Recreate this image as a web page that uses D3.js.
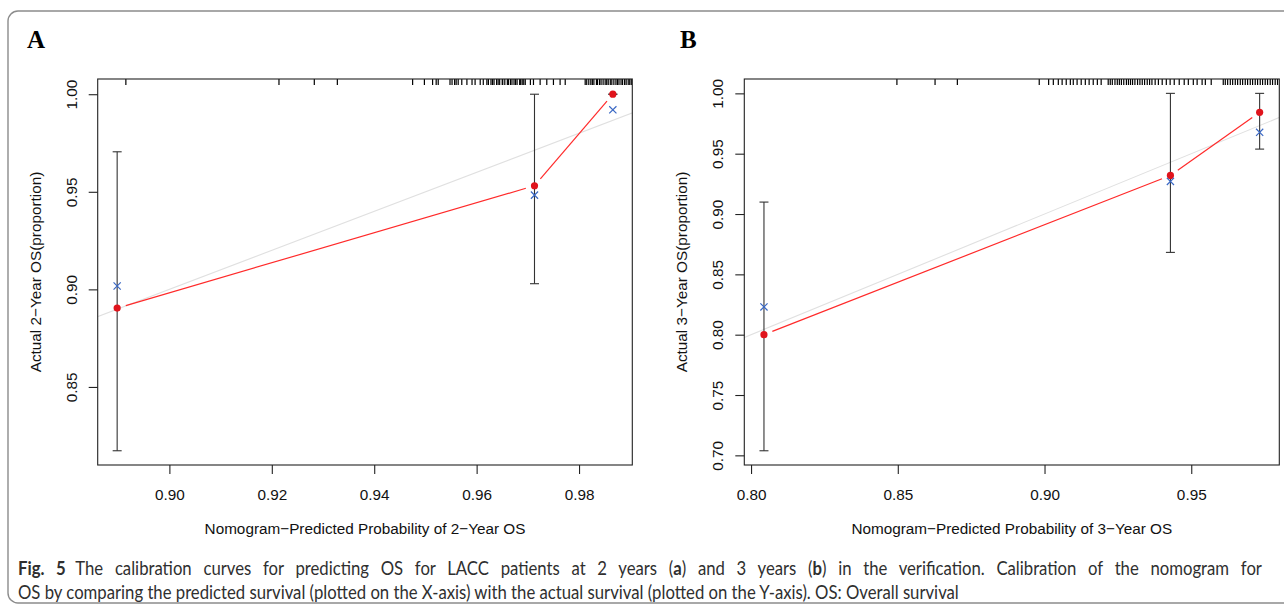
<!DOCTYPE html>
<html>
<head>
<meta charset="utf-8">
<script src="https://cdn.jsdelivr.net/npm/d3@7"></script>
<style>
  body { margin: 0; background: #fff; }
</style>
</head>
<body>
<div id="chart"></div>
<script>
// ---- panel A : 2-year OS ----
const predA = [0.8898, 0.9713, 0.9866];
const obsA  = [0.8904, 0.9531, 1.0000];
const corA  = [0.9017, 0.9483, 0.9920];
const loA   = [0.8173, 0.9029, 1.0000];
const hiA   = [0.9705, 1.0000, 1.0000];
const xTicksA = [0.90, 0.92, 0.94, 0.96, 0.98];
const yTicksA = [0.85, 0.90, 0.95, 1.00];
const rugA = [0.8915, 0.9214, 0.9283, 0.9328, 0.9475, 0.9498, 0.9514, 0.9521, 0.9525,
  0.9548, 0.9552, 0.9557, 0.9560, 0.9564, 0.9571, 0.9581, 0.9591, 0.9597, 0.9607, 0.9613,
  0.9620, 0.9623, 0.9628, 0.9631, 0.9634, 0.9639, 0.9642, 0.9645, 0.9650, 0.9651, 0.9655,
  0.9660, 0.9662, 0.9666, 0.9669, 0.9673, 0.9676, 0.9679, 0.9684, 0.9686, 0.9689, 0.9692,
  0.9695, 0.9705, 0.9711, 0.9724, 0.9737, 0.9750, 0.9763, 0.9773,
  0.9812, 0.9815, 0.9819, 0.9823, 0.9826, 0.9829, 0.9834, 0.9836, 0.9840, 0.9843, 0.9847,
  0.9851, 0.9854, 0.9857, 0.9861, 0.9864, 0.9868, 0.9872, 0.9875, 0.9878, 0.9882, 0.9885,
  0.9889, 0.9892, 0.9896, 0.9899, 0.9902];

// ---- panel B : 3-year OS ----
const predB = [0.8044, 0.9429, 0.9733];
const obsB  = [0.8000, 0.9320, 0.9843];
const corB  = [0.8230, 0.9270, 0.9677];
const loB   = [0.7038, 0.8682, 0.9538];
const hiB   = [0.9099, 1.0000, 1.0000];
const xTicksB = [0.80, 0.85, 0.90, 0.95];
const yTicksB = [0.70, 0.75, 0.80, 0.85, 0.90, 0.95, 1.00];
const rugB = [0.8497, 0.8627, 0.8703, 0.8982, 0.9014, 0.9030, 0.9047,
  0.9060, 0.9074, 0.9088, 0.9098, 0.9111, 0.9125, 0.9139, 0.9152, 0.9166, 0.9180, 0.9193,
  0.9217, 0.9224, 0.9231, 0.9240, 0.9248, 0.9255, 0.9262, 0.9270, 0.9279, 0.9286, 0.9293,
  0.9300, 0.9308, 0.9317, 0.9325, 0.9333, 0.9341, 0.9350, 0.9358, 0.9366, 0.9377,
  0.9388, 0.9401, 0.9415, 0.9428, 0.9442, 0.9459, 0.9476, 0.9490, 0.9507, 0.9520, 0.9537,
  0.9548, 0.9568,
  0.9609, 0.9616, 0.9624, 0.9633, 0.9641, 0.9650, 0.9658, 0.9667, 0.9675, 0.9684, 0.9692,
  0.9701, 0.9709, 0.9718, 0.9726, 0.9735, 0.9743, 0.9752, 0.9760, 0.9769, 0.9777, 0.9786, 0.9794];

const width = 1284
const height = 605
const plotFont = "'Liberation Sans', Arial, Helvetica, sans-serif"
const fs = 15.3
const redline = "#ff2a2a"
const reddot = "#e0141c"
const bluex = "#3a68c4"
const fmt = d3.format(".2f")
const boxTop = 79, boxBottom = 465

const svg = d3.select("#chart").append("svg")
  .attr("width", width).attr("height", height)
  .style("font-family", plotFont);

// outer rounded frame (runs off right edge)
svg.append("rect")
  .attr("x", 8).attr("y", 11)
  .attr("width", 1300).attr("height", 592)
  .attr("rx", 10).attr("ry", 10)
  .attr("fill", "none").attr("stroke", "#8c8c8c").attr("stroke-width", 1.4);

const panels = [
  { id: "A", letterX: 27, left: 97.7, right: 632.3, xDomain: [0.886, 0.9904], yDomain: [0.810, 1.0078],
    pred: predA, obs: obsA, cor: corA, lo: loA, hi: hiA, rug: rugA, xTicks: xTicksA, yTicks: yTicksA,
    ytitle: "Actual 2\u2212Year OS(proportion)", xtitle: "Nomogram\u2212Predicted Probability of 2\u2212Year OS" },
  { id: "B", letterX: 680, left: 744.3, right: 1279.3, xDomain: [0.7977, 0.9800], yDomain: [0.692, 1.0119],
    pred: predB, obs: obsB, cor: corB, lo: loB, hi: hiB, rug: rugB, xTicks: xTicksB, yTicks: yTicksB,
    ytitle: "Actual 3\u2212Year OS(proportion)", xtitle: "Nomogram\u2212Predicted Probability of 3\u2212Year OS" }
];

panels.forEach(p => {
  const x = d3.scaleLinear().domain(p.xDomain).range([p.left, p.right]);
  const y = d3.scaleLinear().domain(p.yDomain).range([boxBottom, boxTop]);
  const g = svg.append("g");

  g.append("clipPath").attr("id", "clip" + p.id)
    .append("rect").attr("x", p.left).attr("y", boxTop)
    .attr("width", p.right - p.left).attr("height", boxBottom - boxTop);

  // ideal line y = x
  const lo = Math.min(p.xDomain[0], p.yDomain[0]) - 0.05, hi = Math.max(p.xDomain[1], p.yDomain[1]) + 0.05;
  g.append("line")
    .attr("clip-path", `url(#clip${p.id})`)
    .attr("x1", x(lo)).attr("y1", y(lo)).attr("x2", x(hi)).attr("y2", y(hi))
    .attr("stroke", "#e0e0e0").attr("stroke-width", 1.1);

  // red calibration line, type "b" (gaps around points)
  const gap = 9;
  for (let i = 0; i < p.pred.length - 1; i++) {
    const x0 = x(p.pred[i]), y0 = y(p.obs[i]), x1 = x(p.pred[i + 1]), y1 = y(p.obs[i + 1]);
    const len = Math.hypot(x1 - x0, y1 - y0), ux = (x1 - x0) / len, uy = (y1 - y0) / len;
    g.append("line")
      .attr("x1", x0 + ux * gap).attr("y1", y0 + uy * gap)
      .attr("x2", x1 - ux * gap).attr("y2", y1 - uy * gap)
      .attr("stroke", redline).attr("stroke-width", 1.2);
  }

  // error bars
  p.pred.forEach((d, i) => {
    const cx = x(d);
    g.append("line").attr("x1", cx).attr("x2", cx).attr("y1", y(p.lo[i])).attr("y2", y(p.hi[i]))
      .attr("stroke", "#333").attr("stroke-width", 1.1);
    [p.lo[i], p.hi[i]].forEach(v => {
      g.append("line").attr("x1", cx - 4.5).attr("x2", cx + 4.5).attr("y1", y(v)).attr("y2", y(v))
        .attr("stroke", "#333").attr("stroke-width", 1.1);
    });
  });

  // observed points
  g.selectAll(".dot").data(p.pred).enter().append("circle")
    .attr("cx", d => x(d)).attr("cy", (d, i) => y(p.obs[i]))
    .attr("r", 3.6).attr("fill", reddot);

  // bias-corrected crosses
  const s = 3.6;
  p.pred.forEach((d, i) => {
    const cx = x(d), cy = y(p.cor[i]);
    g.append("path")
      .attr("d", `M${cx - s},${cy - s}L${cx + s},${cy + s}M${cx - s},${cy + s}L${cx + s},${cy - s}`)
      .attr("stroke", bluex).attr("stroke-width", 1.2).attr("fill", "none");
  });

  // rug along top
  g.selectAll(".rug").data(p.rug).enter().append("line")
    .attr("x1", d => x(d)).attr("x2", d => x(d))
    .attr("y1", boxTop).attr("y2", boxTop + 6)
    .attr("stroke", "#000").attr("stroke-width", 1.2);

  // box
  g.append("rect").attr("x", p.left).attr("y", boxTop)
    .attr("width", p.right - p.left).attr("height", boxBottom - boxTop)
    .attr("fill", "none").attr("stroke", "#222").attr("stroke-width", 1.1);

  // axes
  const xa = g.append("g").attr("transform", `translate(0,${boxBottom})`)
    .call(d3.axisBottom(x).tickValues(p.xTicks).tickSize(9).tickPadding(15).tickFormat(fmt));
  const ya = g.append("g").attr("transform", `translate(${p.left},0)`)
    .call(d3.axisLeft(y).tickValues(p.yTicks).tickSize(9).tickFormat(fmt));
  [xa, ya].forEach(a => {
    a.select(".domain").remove();
    a.selectAll("line").attr("stroke", "#222").attr("stroke-width", 1.1);
    a.selectAll("text").attr("fill", "#111").style("font-size", fs + "px").style("font-family", plotFont);
  });
  ya.selectAll("text")
    .attr("transform", "rotate(-90)")
    .attr("x", 0).attr("y", -26.5).attr("dy", "0.35em")
    .attr("text-anchor", "middle");

  // titles
  g.append("text")
    .attr("x", (p.left + p.right) / 2).attr("y", 534)
    .attr("text-anchor", "middle").attr("fill", "#111")
    .style("font-size", fs + "px").text(p.xtitle);
  g.append("text")
    .attr("transform", `translate(${p.left - 57},${(boxTop + boxBottom) / 2}) rotate(-90)`)
    .attr("text-anchor", "middle").attr("fill", "#111")
    .style("font-size", fs + "px").text(p.ytitle);

  // panel letter
  svg.append("text")
    .attr("x", p.letterX).attr("y", 48)
    .style("font-family", "'Liberation Serif', 'Times New Roman', serif")
    .style("font-weight", "bold").style("font-size", "25px").attr("fill", "#000")
    .text(p.id);
});

// caption (justified: first line stretched, last line natural)
// narrow typeface of the journal is imitated by squeezing Lato horizontally
const capOuter = svg.append("g").attr("transform", "translate(18,0)");
const cap = capOuter.append("g")
  .style("font-family", "Lato, 'Open Sans', sans-serif").style("font-size", "19px")
  .attr("fill", "#2f2f2f");
const lead = 11;
const line1 = cap.append("text").attr("x", 0).attr("y", 575);
line1.append("tspan").style("font-weight", "bold").text("Fig. 5");
line1.append("tspan").attr("dx", lead).text("The calibration curves for predicting OS for LACC patients at 2 years (");
line1.append("tspan").style("font-weight", "bold").text("a");
line1.append("tspan").text(") and 3 years (");
line1.append("tspan").style("font-weight", "bold").text("b");
line1.append("tspan").text(") in the verification. Calibration of the nomogram for");
const line2 = cap.append("text").attr("x", 0).attr("y", 599)
  .text("OS by comparing the predicted survival (plotted on the X-axis) with the actual survival (plotted on the Y-axis). OS: Overall survival");

const w2 = line2.node().getComputedTextLength();
const kx = 942 / w2;
cap.attr("transform", `scale(${kx.toFixed(4)},1)`);
const w1 = line1.node().getComputedTextLength();
const spaces = (line1.text().match(/ /g) || []).length;
line1.style("word-spacing", Math.max(0, (1244 / kx - w1 - lead) / spaces).toFixed(2) + "px");
</script>
</body>
</html>
